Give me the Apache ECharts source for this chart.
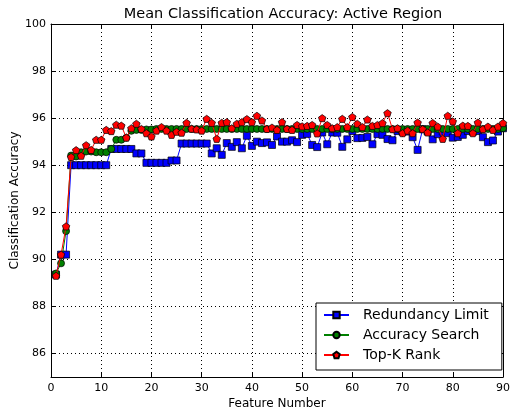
<!DOCTYPE html>
<html>
<head>
<meta charset="utf-8">
<script src="https://cdn.jsdelivr.net/npm/echarts@6/dist/echarts.min.js"></script>
<style>
  html, body { margin: 0; padding: 0; background: #fff; }
  #chart { width: 510px; height: 413px; }
</style>
</head>
<body>
<div id="chart"></div>
<script>
// Number of selected features (x axis)
const featureNumbers = [
  1, 2, 3, 4, 5, 6, 7, 8, 9, 10, 11, 12, 13, 14, 15, 16, 17, 18, 19, 20,
  21, 22, 23, 24, 25, 26, 27, 28, 29, 30, 31, 32, 33, 34, 35, 36, 37, 38, 39, 40,
  41, 42, 43, 44, 45, 46, 47, 48, 49, 50, 51, 52, 53, 54, 55, 56, 57, 58, 59, 60,
  61, 62, 63, 64, 65, 66, 67, 68, 69, 70, 71, 72, 73, 74, 75, 76, 77, 78, 79, 80,
  81, 82, 83, 84, 85, 86, 87, 88, 89, 90
];

// Mean classification accuracy (%) per method
const redundancyLimit = [
  89.35, 90.2, 90.2, 94.0, 94.0, 94.0, 94.0, 94.0, 94.0, 94.0,
  94.0, 94.69, 94.69, 94.69, 94.69, 94.69, 94.5, 94.5, 94.1, 94.1,
  94.1, 94.1, 94.1, 94.2, 94.2, 94.92, 94.92, 94.92, 94.92, 94.92,
  94.92, 94.5, 94.72, 94.44, 94.94, 94.78, 94.98, 94.72, 95.25, 94.82,
  95.0, 94.94, 94.97, 94.86, 95.22, 95.0, 95.0, 95.06, 94.98, 95.29,
  95.33, 94.86, 94.77, 95.39, 94.89, 95.39, 95.38, 94.78, 95.1, 95.45,
  95.15, 95.16, 95.2, 94.89, 95.32, 95.29, 95.11, 95.06, 95.45, 95.42,
  95.43, 95.19, 94.65, 95.53, 95.43, 95.1, 95.32, 95.43, 95.36, 95.17,
  95.2, 95.29, 95.45, 95.42, 95.45, 95.19, 94.98, 95.05, 95.43, 95.57
];

const accuracySearch = [
  89.4, 89.83, 91.2, 94.41, 94.37, 94.55, 94.58, 94.58, 94.55, 94.55,
  94.55, 94.69, 95.08, 95.08, 95.17, 95.46, 95.5, 95.5, 95.52, 95.52,
  95.54, 95.54, 95.54, 95.54, 95.54, 95.54, 95.54, 95.54, 95.54, 95.54,
  95.54, 95.54, 95.54, 95.54, 95.54, 95.54, 95.54, 95.54, 95.54, 95.54,
  95.54, 95.54, 95.54, 95.54, 95.54, 95.54, 95.54, 95.54, 95.54, 95.54,
  95.54, 95.54, 95.54, 95.54, 95.54, 95.54, 95.54, 95.54, 95.54, 95.54,
  95.54, 95.54, 95.54, 95.54, 95.54, 95.54, 95.54, 95.54, 95.54, 95.54,
  95.54, 95.54, 95.54, 95.54, 95.54, 95.54, 95.54, 95.54, 95.54, 95.54,
  95.54, 95.54, 95.54, 95.54, 95.54, 95.54, 95.54, 95.54, 95.54, 95.57
];

const topKRank = [
  89.3, 90.2, 91.4, 94.35, 94.64, 94.4, 94.85, 94.65, 95.08, 95.08,
  95.5, 95.45, 95.72, 95.68, 95.17, 95.57, 95.76, 95.54, 95.36, 95.22,
  95.47, 95.62, 95.47, 95.29, 95.42, 95.38, 95.8, 95.55, 95.52, 95.47,
  95.97, 95.8, 95.12, 95.8, 95.83, 95.57, 95.76, 95.83, 95.96, 95.83,
  96.1, 95.9, 95.54, 95.6, 95.5, 95.83, 95.54, 95.5, 95.71, 95.65,
  95.67, 95.71, 95.35, 96.0, 95.71, 95.57, 95.62, 95.97, 95.62, 96.05,
  95.76, 95.62, 95.94, 95.67, 95.71, 95.79, 96.21, 95.53, 95.57, 95.36,
  95.47, 95.36, 95.81, 95.53, 95.39, 95.79, 95.64, 95.12, 96.1, 95.86,
  95.36, 95.68, 95.67, 95.36, 95.81, 95.53, 95.64, 95.5, 95.64, 95.79
];

const seriesNames = ['Redundancy Limit', 'Accuracy Search', 'Top-K Rank'];
const xTicks = [0, 10, 20, 30, 40, 50, 60, 70, 80, 90];
const yTicks = [86, 88, 90, 92, 94, 96, 98, 100];

const FONT = '"DejaVu Sans", sans-serif';
const pentagon = 'path://M0,-1 L0.951,-0.309 L0.588,0.809 L-0.588,0.809 L-0.951,-0.309 Z';

function pairs(values) {
  return featureNumbers.map((f, i) => [f, values[i]]);
}

const dottedGrid = { show: true, lineStyle: { color: '#000', type: [1, 3], width: 1 } };
const frameLine = { show: true, onZero: false, lineStyle: { color: '#000', width: 1 } };
const innerTick = { show: true, inside: true, length: 4, lineStyle: { color: '#000' } };

function lineSeries(name, values, color, symbol, size, z) {
  return {
    name: name,
    type: 'line',
    data: pairs(values),
    symbol: symbol,
    symbolSize: size,
    symbolKeepAspect: true,
    showSymbol: true,
    z: z,
    lineStyle: { color: color, width: 1 },
    itemStyle: { color: color, borderColor: '#000', borderWidth: 0.7 },
    emphasis: { disabled: true },
    animation: false
  };
}

const chart = echarts.init(document.getElementById('chart'), null, { renderer: 'canvas' });

chart.setOption({
  backgroundColor: '#fff',
  animation: false,
  textStyle: { fontFamily: FONT },
  grid: { left: 51, right: 7, top: 24, bottom: 36, outerBoundsMode: 'none', containLabel: false },
  graphic: [{
    type: 'text',
    x: 283,
    y: 7,
    style: {
      text: 'Mean Classification Accuracy: Active Region',
      font: '14.5px ' + FONT,
      fill: '#000',
      align: 'center',
      verticalAlign: 'top'
    }
  }],
  legend: {
    data: seriesNames,
    orient: 'vertical',
    left: 316,
    top: 303,
    itemWidth: 25,
    itemHeight: 8,
    itemGap: 6,
    padding: [5, 13, 8, 7],
    borderColor: '#000',
    borderWidth: 1,
    borderRadius: 0,
    backgroundColor: '#fff',
    selectedMode: false,
    textStyle: { fontFamily: FONT, fontSize: 14, color: '#000', padding: [0, 0, 0, 9] }
  },
  xAxis: [{
    type: 'value',
    min: 0,
    max: 90,
    interval: 10,
    position: 'bottom',
    name: 'Feature Number',
    nameLocation: 'middle',
    nameGap: 21,
    nameMoveOverlap: false,
    nameTextStyle: { fontFamily: FONT, fontSize: 12, color: '#000' },
    axisLine: frameLine,
    axisTick: innerTick,
    axisLabel: { color: '#000', fontFamily: FONT, fontSize: 11, margin: 6,
      customValues: xTicks },
    splitLine: dottedGrid
  }, {
    type: 'value',
    min: 0,
    max: 90,
    interval: 10,
    position: 'top',
    axisLine: frameLine,
    axisTick: innerTick,
    axisLabel: { show: false },
    splitLine: { show: false }
  }],
  yAxis: [{
    type: 'value',
    min: 85,
    max: 100,
    position: 'left',
    name: 'Classification Accuracy',
    nameLocation: 'middle',
    nameGap: 30,
    nameMoveOverlap: false,
    nameTextStyle: { fontFamily: FONT, fontSize: 12, color: '#000' },
    axisLine: frameLine,
    axisTick: Object.assign({ customValues: yTicks }, innerTick),
    axisLabel: { color: '#000', fontFamily: FONT, fontSize: 11, margin: 5,
      customValues: yTicks },
    splitLine: dottedGrid
  }, {
    type: 'value',
    min: 85,
    max: 100,
    position: 'right',
    axisLine: frameLine,
    axisTick: Object.assign({ customValues: yTicks }, innerTick),
    axisLabel: { show: false },
    splitLine: { show: false }
  }],
  series: [
    lineSeries(seriesNames[0], redundancyLimit, '#0000ff', 'rect', 7, 2),
    lineSeries(seriesNames[1], accuracySearch, '#008000', 'circle', 7, 3),
    lineSeries(seriesNames[2], topKRank, '#ff0000', pentagon, 7.5, 4)
  ]
});
</script>
</body>
</html>
